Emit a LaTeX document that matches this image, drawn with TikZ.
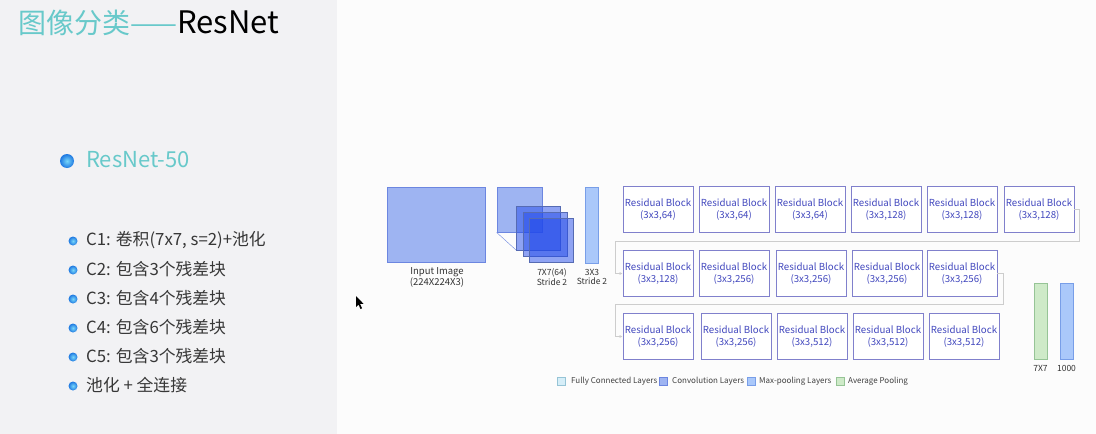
\documentclass[tikz,border=0pt]{standalone}
\usepackage{fontspec}
\setmainfont{Noto Sans CJK SC}
\usetikzlibrary{calc,arrows.meta}
\definecolor{tealtxt}{RGB}{104,201,202}
\definecolor{leftbg}{RGB}{242,242,244}
\definecolor{listtxt}{RGB}{55,55,55}
\definecolor{rbborder}{RGB}{128,128,204}
\definecolor{rbtext}{RGB}{66,72,190}
\definecolor{convfill}{RGB}{158,180,242}
\definecolor{convdraw}{RGB}{108,134,224}
\definecolor{stackfill}{RGB}{35,75,235}
\definecolor{poolfill}{RGB}{170,200,250}
\definecolor{pooldraw}{RGB}{120,158,232}
\definecolor{avgfill}{RGB}{206,234,200}
\definecolor{avgdraw}{RGB}{150,196,150}
\definecolor{fcfill}{RGB}{214,238,248}
\definecolor{fcdraw}{RGB}{150,196,214}
\definecolor{connc}{RGB}{205,205,205}
\definecolor{bulletc}{RGB}{30,120,225}
\definecolor{bulletin}{RGB}{120,215,250}
\tikzset{
  rb/.style={draw=rbborder, line width=0.9pt, fill=white, minimum width=70pt, minimum height=46pt,
    inner sep=0pt, align=center, text=rbtext, font=\fontsize{9.7}{11.2}\selectfont},
  conn/.style={draw=connc, line width=0.9pt, -{Latex[length=3pt,width=3pt]}},
  lbl/.style={font=\fontsize{8.5}{9.5}\selectfont, text=black!80, align=center, inner sep=0pt},
  lg/.style={font=\fontsize{8}{9}\selectfont, text=black!75, anchor=west, inner sep=0pt},
  lgbox/.style={minimum size=8pt, inner sep=0pt, line width=0.5pt},
  item/.style={font=\fontsize{16.8}{18}\selectfont, text=listtxt, anchor=west, inner sep=0pt},
  orb/.style={circle, inner sep=0pt, draw=none, shading=radial, inner color=bulletin, outer color=bulletc},
  bul/.style={orb, minimum size=9pt},
  stack/.style={draw=convdraw!80!black, fill=stackfill, fill opacity=0.5, line width=0.8pt, minimum size=44pt, inner sep=0pt},
}
\begin{document}
\begin{tikzpicture}[x=1pt,y=-1pt]
\useasboundingbox (0,0) rectangle (1096,434);
\fill[white!98!gray] (0,0) rectangle (1096,434);
\fill[leftbg] (0,0) rectangle (337,434);

% title
\node[anchor=west, inner sep=0pt] (title) at (18,23)
  {\fontsize{28}{30}\selectfont\textcolor{tealtxt}{图像分类——}\fontsize{31}{32}\selectfont\textcolor{black}{ResNet}};

% ResNet-50
\node[orb, minimum size=14pt] (b0) at (67,161) {};
\node[anchor=west, inner sep=0pt, text=tealtxt, font=\fontsize{22}{24}\selectfont] (h50) at (86,160) {ResNet-50};

% list
\node[bul] (i1b) at (73,241) {};
\node[item] (i1) at (86,240) {C1: 卷积(7x7, s=2)+池化};
\node[bul] (i2b) at (73,270) {};
\node[item] (i2) at (86,269) {C2: 包含3个残差块};
\node[bul] (i3b) at (73,299) {};
\node[item] (i3) at (86,298) {C3: 包含4个残差块};
\node[bul] (i4b) at (73,328) {};
\node[item] (i4) at (86,327) {C4: 包含6个残差块};
\node[bul] (i5b) at (73,357) {};
\node[item] (i5) at (86,356) {C5: 包含3个残差块};
\node[bul] (i6b) at (73,386) {};
\node[item] (i6) at (86,385) {池化 + 全连接};

% mouse cursor
\fill[black] (356,296) -- (356,307) -- (358.5,304.5) -- (360.5,309) -- (362,308.3) -- (360,303.8) -- (363.5,303.8) -- cycle;

% input image
\node[draw=convdraw, fill=convfill, line width=0.8pt, minimum width=98pt, minimum height=75pt, inner sep=0pt] (inp) at (436,224.5) {};
\node[lbl, font=\fontsize{9.5}{11}\selectfont] (inpl) at (437,277) {Input Image\\(224X224X3)};

% conv stack
\node[draw=convdraw, fill=convfill, line width=0.8pt, minimum size=45pt, inner sep=0pt] (c0) at (519.5,209.5) {};
\draw[convdraw, line width=0.4pt] (c0.south west) -- (516,250);
\node[stack] (c1) at (538.5,228) {};
\node[stack] (c2) at (545.5,234.5) {};
\node[stack] (c3) at (551.5,240.5) {};
\node[lbl] (cl) at (552,277) {7X7(64)\\Stride 2};

% max pool
\node[draw=pooldraw, fill=poolfill, line width=0.8pt, minimum width=13pt, minimum height=76pt, inner sep=0pt] (mp) at (591.5,225) {};
\node[lbl] (mpl) at (592,277) {3X3\\Stride 2};

% residual blocks row 1
\node[rb] (r11) at (658,209.5) {Residual Block\\(3x3,64)};
\node[rb] (r12) at (734,209.5) {Residual Block\\(3x3,64)};
\node[rb] (r13) at (810,209.5) {Residual Block\\(3x3,64)};
\node[rb] (r14) at (886,209.5) {Residual Block\\(3x3,128)};
\node[rb] (r15) at (962,209.5) {Residual Block\\(3x3,128)};
\node[rb] (r16) at (1039,209.5) {Residual Block\\(3x3,128)};
% row 2
\node[rb] (r21) at (658,273.5) {Residual Block\\(3x3,128)};
\node[rb] (r22) at (734,273.5) {Residual Block\\(3x3,256)};
\node[rb] (r23) at (811,273.5) {Residual Block\\(3x3,256)};
\node[rb] (r24) at (887,273.5) {Residual Block\\(3x3,256)};
\node[rb] (r25) at (962,273.5) {Residual Block\\(3x3,256)};
% row 3
\node[rb] (r31) at (658,336.5) {Residual Block\\(3x3,256)};
\node[rb] (r32) at (736,336.5) {Residual Block\\(3x3,256)};
\node[rb] (r33) at (812,336.5) {Residual Block\\(3x3,512)};
\node[rb] (r34) at (888,336.5) {Residual Block\\(3x3,512)};
\node[rb] (r35) at (964,336.5) {Residual Block\\(3x3,512)};

% connectors between rows
\coordinate (a1) at (1079,241);
\coordinate (b1) at (615,241);
\draw[conn] (r16.east) -| (a1) -- (b1) |- (r21.west);
\coordinate (a2) at (1003,304);
\coordinate (b2) at (615,304);
\draw[conn] (r25.east) -| (a2) -- (b2) |- (r31.west);

% avg pool and fc
\node[draw=avgdraw, fill=avgfill, line width=0.8pt, minimum width=13pt, minimum height=76pt, inner sep=0pt] (ap) at (1040.5,321) {};
\node[draw=pooldraw, fill=poolfill, line width=0.8pt, minimum width=13pt, minimum height=76pt, inner sep=0pt] (fc) at (1066.5,321) {};
\node[lbl] (apl) at (1040.5,368) {7X7};
\node[lbl] (fcl) at (1066.5,368) {1000};

% legend
\node[lgbox, draw=fcdraw, fill=fcfill] (lg1) at (561,381) {};
\node[lg] (lt1) at (571,381) {Fully Connected Layers};
\node[lgbox, draw=convdraw, fill=convfill] (lg2) at (663,381) {};
\node[lg] (lt2) at (672,381) {Convolution Layers};
\node[lgbox, draw=pooldraw, fill=poolfill] (lg3) at (751,381) {};
\node[lg] (lt3) at (759,381) {Max-pooling Layers};
\node[lgbox, draw=avgdraw, fill=avgfill] (lg4) at (840,381) {};
\node[lg] (lt4) at (848,381) {Average Pooling};
\end{tikzpicture}
\end{document}
